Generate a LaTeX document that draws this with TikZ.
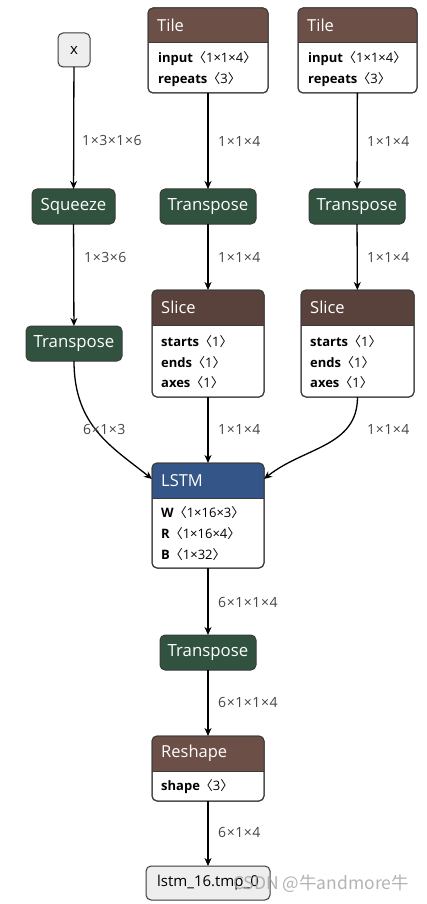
\documentclass[tikz,border=0pt]{standalone}
\usepackage{fontspec}
\setmainfont{Open Sans}
\newfontfamily\cjk{Noto Sans CJK SC}
\newfontfamily\elfont{Open Sans}[LetterSpace=4]
\usetikzlibrary{arrows.meta}
\definecolor{bord}{HTML}{3A3A3A}
\definecolor{trf}{HTML}{30523F}
\definecolor{shp}{HTML}{6C4F47}
\definecolor{tns}{HTML}{59423B}
\definecolor{lyr}{HTML}{335588}
\definecolor{inp}{HTML}{EEEEEE}
\definecolor{elab}{HTML}{444444}
\newcommand\lab{{\cjk 〈}}
\newcommand\rab{{\cjk 〉}}
\tikzset{
  box/.style={draw=bord, line width=1pt, rounded corners=5pt, inner sep=0pt, outer sep=0pt},
  simple/.style={box, fill=trf, text=white, font=\fontsize{16.8}{18}\selectfont, minimum height=35pt, minimum width=96pt},
  io/.style={box, fill=inp, text=black, font=\fontsize{15}{18}\selectfont, minimum height=34pt},
  ttl/.style={anchor=west, text=white, font=\fontsize{16.5}{18}\selectfont, inner sep=0pt},
  attr/.style={anchor=west, font=\fontsize{13}{15}\selectfont, inner sep=0pt},
  elabel/.style={anchor=west, text=elab, font=\elfont\fontsize{14}{16}\selectfont, inner sep=0pt},
  arr/.style={-{Stealth[length=8pt,width=7pt,inset=2.5pt]}, line width=1.3pt, black},
}
% #1 name, #2 left, #3 top, #4 width, #5 height, #6 colour, #7 title
\newcommand\attrbox[7]{%
  \node[box, fill=white, minimum width=#4pt, minimum height=#5pt, anchor=north west] (#1) at (#2,#3) {};
  \begin{scope}
    \clip[rounded corners=5pt] (#1.north west) rectangle (#1.south east);
    \fill[#6] (#1.north west) rectangle ([yshift=-35pt]#1.north east);
  \end{scope}
  \draw[bord, line width=1pt] ([yshift=-35pt]#1.north west) -- ([yshift=-35pt]#1.north east);
  \draw[bord, line width=1pt, rounded corners=5pt] (#1.north west) rectangle (#1.south east);
  \node[ttl] (#1-t) at ([xshift=9pt,yshift=-17.5pt]#1.north west) {#7};
}
\begin{document}
\begin{tikzpicture}[x=1pt,y=-1pt]
\useasboundingbox (0,0) rectangle (427,904);

% input
\node[io, minimum width=32pt] (x) at (74,50) {x};

% top boxes
\attrbox{tile1}{148}{8}{120}{85}{shp}{Tile}
\node[attr] (tile1-a1) at (158,59) {\textbf{input}\lab1×1×4\rab};
\node[attr] (tile1-a2) at (158,80) {\textbf{repeats}\lab3\rab};
\attrbox{tile2}{298}{8}{119}{85}{shp}{Tile}
\node[attr] (tile2-a1) at (308,59) {\textbf{input}\lab1×1×4\rab};
\node[attr] (tile2-a2) at (308,80) {\textbf{repeats}\lab3\rab};

% transform nodes
\node[simple, minimum width=83pt] (sq) at (73.5,206.5) {Squeeze};
\node[simple] (tp1) at (208,206.5) {Transpose};
\node[simple] (tp2) at (357,206.5) {Transpose};
\node[simple] (tp0) at (74,343.5) {Transpose};

% slices
\attrbox{sl1}{152}{290}{112}{107}{tns}{Slice}
\node[attr] (sl1-a1) at (161,342) {\textbf{starts}\lab1\rab};
\node[attr] (sl1-a2) at (161,363) {\textbf{ends}\lab1\rab};
\node[attr] (sl1-a3) at (161,383) {\textbf{axes}\lab1\rab};
\attrbox{sl2}{301}{290}{113}{107}{tns}{Slice}
\node[attr] (sl2-a1) at (310,342) {\textbf{starts}\lab1\rab};
\node[attr] (sl2-a2) at (310,363) {\textbf{ends}\lab1\rab};
\node[attr] (sl2-a3) at (310,383) {\textbf{axes}\lab1\rab};

% LSTM
\attrbox{lstm}{152}{463}{112}{105}{lyr}{LSTM}
\node[attr] (lstm-a1) at (161,513) {\textbf{W}\lab1×16×3\rab};
\node[attr] (lstm-a2) at (161,534) {\textbf{R}\lab1×16×4\rab};
\node[attr] (lstm-a3) at (161,555) {\textbf{B}\lab1×32\rab};

\node[simple] (tp3) at (208,652.5) {Transpose};

\attrbox{rs}{152}{736}{112}{65}{shp}{Reshape}
\node[attr] (rs-a1) at (161,787) {\textbf{shape}\lab3\rab};

\node[io, minimum width=124pt] (out) at (208,883) {lstm\_16.tmp\_0};

% connectors
\draw[arr] (x) -- (sq);
\draw[arr] (tile1) -- (tp1);
\draw[arr] (tile2) -- (tp2);
\draw[arr] (sq) -- (tp0);
\draw[arr] (tp1) -- (sl1);
\draw[arr] (tp2) -- (sl2);
\draw[arr] (sl1) -- (lstm);
\draw[arr] (tp0.south) .. controls +(0,65) and +(-40,-32) .. ([yshift=-16pt]lstm.north west);
\draw[arr] (sl2.south) .. controls +(0,50) and +(40,-32) .. ([yshift=-16pt]lstm.north east);
\draw[arr] (lstm) -- (tp3);
\draw[arr] (tp3) -- (rs);
\draw[arr] (rs) -- (out);

% edge labels
\node[elabel] (e1) at (82,141) {1×3×1×6};
\node[elabel] (e2) at (218,141) {1×1×4};
\node[elabel] (e3) at (367,141) {1×1×4};
\node[elabel] (e4) at (84,257) {1×3×6};
\node[elabel] (e5) at (218,257) {1×1×4};
\node[elabel] (e6) at (367,257) {1×1×4};
\node[elabel] (e7) at (83,429) {6×1×3};
\node[elabel] (e8) at (218,429) {1×1×4};
\node[elabel] (e9) at (367,429) {1×1×4};
\node[elabel] (e10) at (218,602) {6×1×1×4};
\node[elabel] (e11) at (218,702) {6×1×1×4};
\node[elabel] (e12) at (218,832) {6×1×4};

% watermark
\node[anchor=west, inner sep=0pt, text=gray!70, opacity=0.85, font=\cjk\fontsize{17.5}{19}\selectfont] (wm) at (233,884) {CSDN @牛andmore牛};
\end{tikzpicture}
\end{document}
